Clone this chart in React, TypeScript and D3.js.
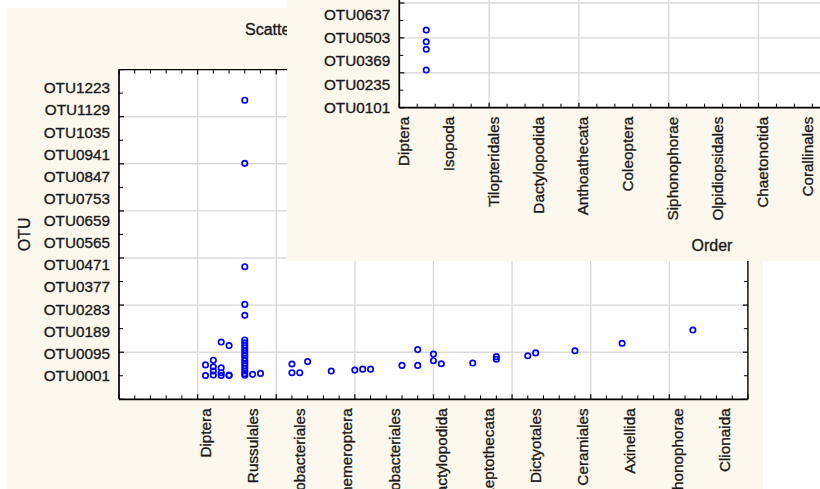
import React from "react";
import * as d3 from "d3";

// ---------- Main chart data ----------
const mainOrderLabels = [
  "Diptera", "Russulales", "Flavobacteriales", "Ephemeroptera", "Sphingobacteriales",
  "Dactylopodida", "Leptothecata", "Dictyotales", "Ceramiales", "Axinellida",
  "Siphonophorae", "Clionaida",
];
const mainOrderLabelIdx = [11, 17, 23, 29, 35, 41, 47, 53, 59, 65, 71, 77];
const mainOtuTickValues = [1, 95, 189, 283, 377, 471, 565, 659, 753, 847, 941, 1035, 1129, 1223];
const mainOtuTickLabels = [
  "OTU0001", "OTU0095", "OTU0189", "OTU0283", "OTU0377", "OTU0471", "OTU0565",
  "OTU0659", "OTU0753", "OTU0847", "OTU0941", "OTU1035", "OTU1129", "OTU1223",
];
const mainPointIdx = [
  11, 11,
  12, 12, 12, 12,
  13, 13, 13, 13,
  14, 14, 14,
  16, 16, 16, 16, 16, 16, 16, 16, 16, 16, 16, 16, 16, 16, 16, 16, 16, 16, 16, 16,
  17, 18,
  22, 22, 23, 24, 27, 30, 31, 32, 36, 38, 38, 40, 40, 41, 45, 48, 48, 52, 53, 58, 64, 73,
];
const mainPointOtu = [
  46, 1,
  66, 38, 20, 3,
  143, 34, 13, 1,
  128, 3, 1,
  1170, 902, 463, 303, 257, 152, 140, 129, 118, 107, 96, 86, 75, 64, 53, 42, 31, 20, 9, 2,
  6, 10,
  50, 13, 13, 60, 20, 24, 28, 28, 44, 111, 44, 92, 64, 51, 54, 81, 70, 85, 97, 106, 138, 194,
];

// ---------- Overlay chart data ----------
const ovOrderLabels = [
  "Diptera", "Isopoda", "Tilopteridales", "Dactylopodida", "Anthoathecata",
  "Coleoptera", "Siphonophorae", "Olpidiopsidales", "Chaetonotida", "Corallinales",
];
const ovOrderLabelIdx = [0, 5, 10, 15, 20, 25, 30, 35, 40, 45];
const ovOtuTickValues = [101, 235, 369, 503, 637];
const ovOtuTickLabels = ["OTU0101", "OTU0235", "OTU0369", "OTU0503", "OTU0637"];
const ovPointIdx = [3, 3, 3, 3];
const ovPointOtu = [545, 478, 435, 316];

// ---------- Styling ----------
const W = 820;
const H = 489;
const BG = "#fdf8ee";
const GRID = "#dadada";
const TEXT = "#1a1a1a";
const PT = "#0000ff";
const FONT = "'Liberation Sans', Arial, sans-serif";
const TICK_FS = 15.3;
const TXT_STROKE = 0.35;

export default function App() {
  // main scales
  const mL = 119, mR = 747.9, mT = 69.6, mB = 399.3;
  const xM = d3.scaleLinear().domain([0, 80]).range([mL, mR]);
  const yM = d3.scaleLinear().domain([-100, 1300]).range([mB, mT]);
  const xMajorM = d3.range(0, 81, 10);
  const xMinorM = d3.range(0, 81, 2).filter((v) => v % 10 !== 0);
  const yMajorM = d3.range(-100, 1301, 200);
  const yMinorM = d3.range(0, 1201, 200);

  // overlay scales
  const oL = 399.3, oB = 107.7;
  const xO = d3.scaleLinear().domain([0, 50]).range([oL, oL + 50 * 8.98]);
  const yO = d3.scaleLinear().domain([100, 1300]).range([oB, oB - 1200 * 0.1745]);
  const xMajorO = d3.range(0, 51, 10);
  const xMinorO = d3.range(0, 51, 2).filter((v) => v % 10 !== 0);
  const yMajorO = d3.range(100, 1301, 200);
  const yMinorO = d3.range(200, 1201, 200);
  const ovX0 = 287, ovY1 = 261;

  const txt = { fill: TEXT, stroke: TEXT, strokeWidth: TXT_STROKE };

  return (
    <svg
      width={W}
      height={H}
      style={{ position: "absolute", left: 0, top: 0, background: "#ffffff" }}
      fontFamily={FONT}
    >
      <defs>
        <clipPath id="ovclip">
          <rect x={ovX0} y={0} width={W - ovX0} height={ovY1} />
        </clipPath>
        <clipPath id="titleclip">
          <rect x={0} y={0} width={ovX0} height={60} />
        </clipPath>
      </defs>

      {/* ===== Main window ===== */}
      <rect x={7} y={8} width={756} height={H} fill={BG} />
      <g clipPath="url(#titleclip)">
        <text x={245} y={34.5} fontSize={16} {...txt}>
          Scatterplot of OTU against Order
        </text>
      </g>
      <rect x={mL} y={mT} width={mR - mL} height={mB - mT} fill="#ffffff" />
      {/* grid */}
      {xMajorM.slice(1, -1).map((v) => (
        <line key={"gx" + v} x1={xM(v)} x2={xM(v)} y1={mT} y2={mB} stroke={GRID} strokeWidth={1.4} />
      ))}
      {yMajorM.slice(1, -1).map((v) => (
        <line key={"gy" + v} x1={mL} x2={mR} y1={yM(v)} y2={yM(v)} stroke={GRID} strokeWidth={1.4} />
      ))}
      {/* ticks */}
      {xMinorM.map((v) => (
        <g key={"tx" + v}>
          <line x1={xM(v)} x2={xM(v)} y1={mB} y2={mB - 4} stroke="#000" strokeWidth={1} />
          <line x1={xM(v)} x2={xM(v)} y1={mT} y2={mT + 4} stroke="#000" strokeWidth={1} />
        </g>
      ))}
      {xMajorM.map((v) => (
        <g key={"tX" + v}>
          <line x1={xM(v)} x2={xM(v)} y1={mB} y2={mB - 5} stroke="#000" strokeWidth={1.2} />
          <line x1={xM(v)} x2={xM(v)} y1={mT} y2={mT + 5} stroke="#000" strokeWidth={1.2} />
        </g>
      ))}
      {yMinorM.map((v) => (
        <g key={"ty" + v}>
          <line x1={mL} x2={mL + 4} y1={yM(v)} y2={yM(v)} stroke="#000" strokeWidth={1} />
          <line x1={mR} x2={mR - 4} y1={yM(v)} y2={yM(v)} stroke="#000" strokeWidth={1} />
        </g>
      ))}
      {yMajorM.map((v) => (
        <g key={"tY" + v}>
          <line x1={mL} x2={mL + 5} y1={yM(v)} y2={yM(v)} stroke="#000" strokeWidth={1.2} />
          <line x1={mR} x2={mR - 5} y1={yM(v)} y2={yM(v)} stroke="#000" strokeWidth={1.2} />
        </g>
      ))}
      {/* frame */}
      <line x1={mL} x2={mR} y1={mT} y2={mT} stroke="#000" strokeWidth={1.2} />
      <line x1={mR} x2={mR} y1={mT} y2={mB} stroke="#000" strokeWidth={1.4} />
      <line x1={mL} x2={mL} y1={mT} y2={mB} stroke="#000" strokeWidth={1.7} />
      <line x1={mL} x2={mR} y1={mB} y2={mB} stroke="#000" strokeWidth={1.7} />
      {/* points */}
      {mainPointIdx.map((xi, i) => (
        <circle key={"mp" + i} cx={xM(xi)} cy={yM(mainPointOtu[i])} r={2.7} fill="none" stroke={PT} strokeWidth={1.7} />
      ))}
      {/* y tick labels */}
      {mainOtuTickValues.map((v, i) => (
        <text key={"yl" + v} x={mL - 9} y={yM(v)} dy="0.36em" textAnchor="end" fontSize={TICK_FS} {...txt}>
          {mainOtuTickLabels[i]}
        </text>
      ))}
      {/* x tick labels */}
      {mainOrderLabelIdx.map((v, i) => (
        <text
          key={"xl" + v}
          transform={`translate(${xM(v)},${mB + 9}) rotate(-90)`}
          dy="0.36em"
          textAnchor="end"
          fontSize={TICK_FS}
          {...txt}
        >
          {mainOrderLabels[i]}
        </text>
      ))}
      <text transform={`translate(24,${(mT + mB) / 2}) rotate(-90)`} dy="0.36em" textAnchor="middle" fontSize={16} {...txt}>
        OTU
      </text>

      {/* ===== Overlay window ===== */}
      <g clipPath="url(#ovclip)">
        <rect x={ovX0} y={0} width={W - ovX0} height={ovY1} fill={BG} />
        <rect x={oL} y={-200} width={W} height={oB + 200} fill="#ffffff" />
        {xMajorO.slice(1).map((v) => (
          <line key={"ogx" + v} x1={xO(v)} x2={xO(v)} y1={-200} y2={oB} stroke={GRID} strokeWidth={1.4} />
        ))}
        {yMajorO.slice(1).map((v) => (
          <line key={"ogy" + v} x1={oL} x2={W} y1={yO(v)} y2={yO(v)} stroke={GRID} strokeWidth={1.4} />
        ))}
        {xMinorO.map((v) => (
          <line key={"otx" + v} x1={xO(v)} x2={xO(v)} y1={oB} y2={oB - 4} stroke="#000" strokeWidth={1} />
        ))}
        {xMajorO.map((v) => (
          <line key={"otX" + v} x1={xO(v)} x2={xO(v)} y1={oB} y2={oB - 5} stroke="#000" strokeWidth={1.2} />
        ))}
        {yMinorO.map((v) => (
          <line key={"oty" + v} x1={oL} x2={oL + 4} y1={yO(v)} y2={yO(v)} stroke="#000" strokeWidth={1} />
        ))}
        {yMajorO.map((v) => (
          <line key={"otY" + v} x1={oL} x2={oL + 5} y1={yO(v)} y2={yO(v)} stroke="#000" strokeWidth={1.2} />
        ))}
        <line x1={oL} x2={oL} y1={-200} y2={oB} stroke="#000" strokeWidth={1.7} />
        <line x1={oL} x2={W} y1={oB} y2={oB} stroke="#000" strokeWidth={1.7} />
        {ovPointIdx.map((xi, i) => (
          <circle key={"op" + i} cx={xO(xi)} cy={yO(ovPointOtu[i])} r={2.7} fill="none" stroke={PT} strokeWidth={1.7} />
        ))}
        {ovOtuTickValues.map((v, i) => (
          <text key={"oyl" + v} x={oL - 9} y={yO(v)} dy="0.36em" textAnchor="end" fontSize={TICK_FS} {...txt}>
            {ovOtuTickLabels[i]}
          </text>
        ))}
        {ovOrderLabelIdx.map((v, i) => (
          <text
            key={"oxl" + v}
            transform={`translate(${xO(v) + 4},${oB + 9}) rotate(-90)`}
            dy="0.36em"
            textAnchor="end"
            fontSize={TICK_FS}
            {...txt}
          >
            {ovOrderLabels[i]}
          </text>
        ))}
        <text x={712} y={251} textAnchor="middle" fontSize={16} {...txt}>
          Order
        </text>
      </g>
    </svg>
  );
}
